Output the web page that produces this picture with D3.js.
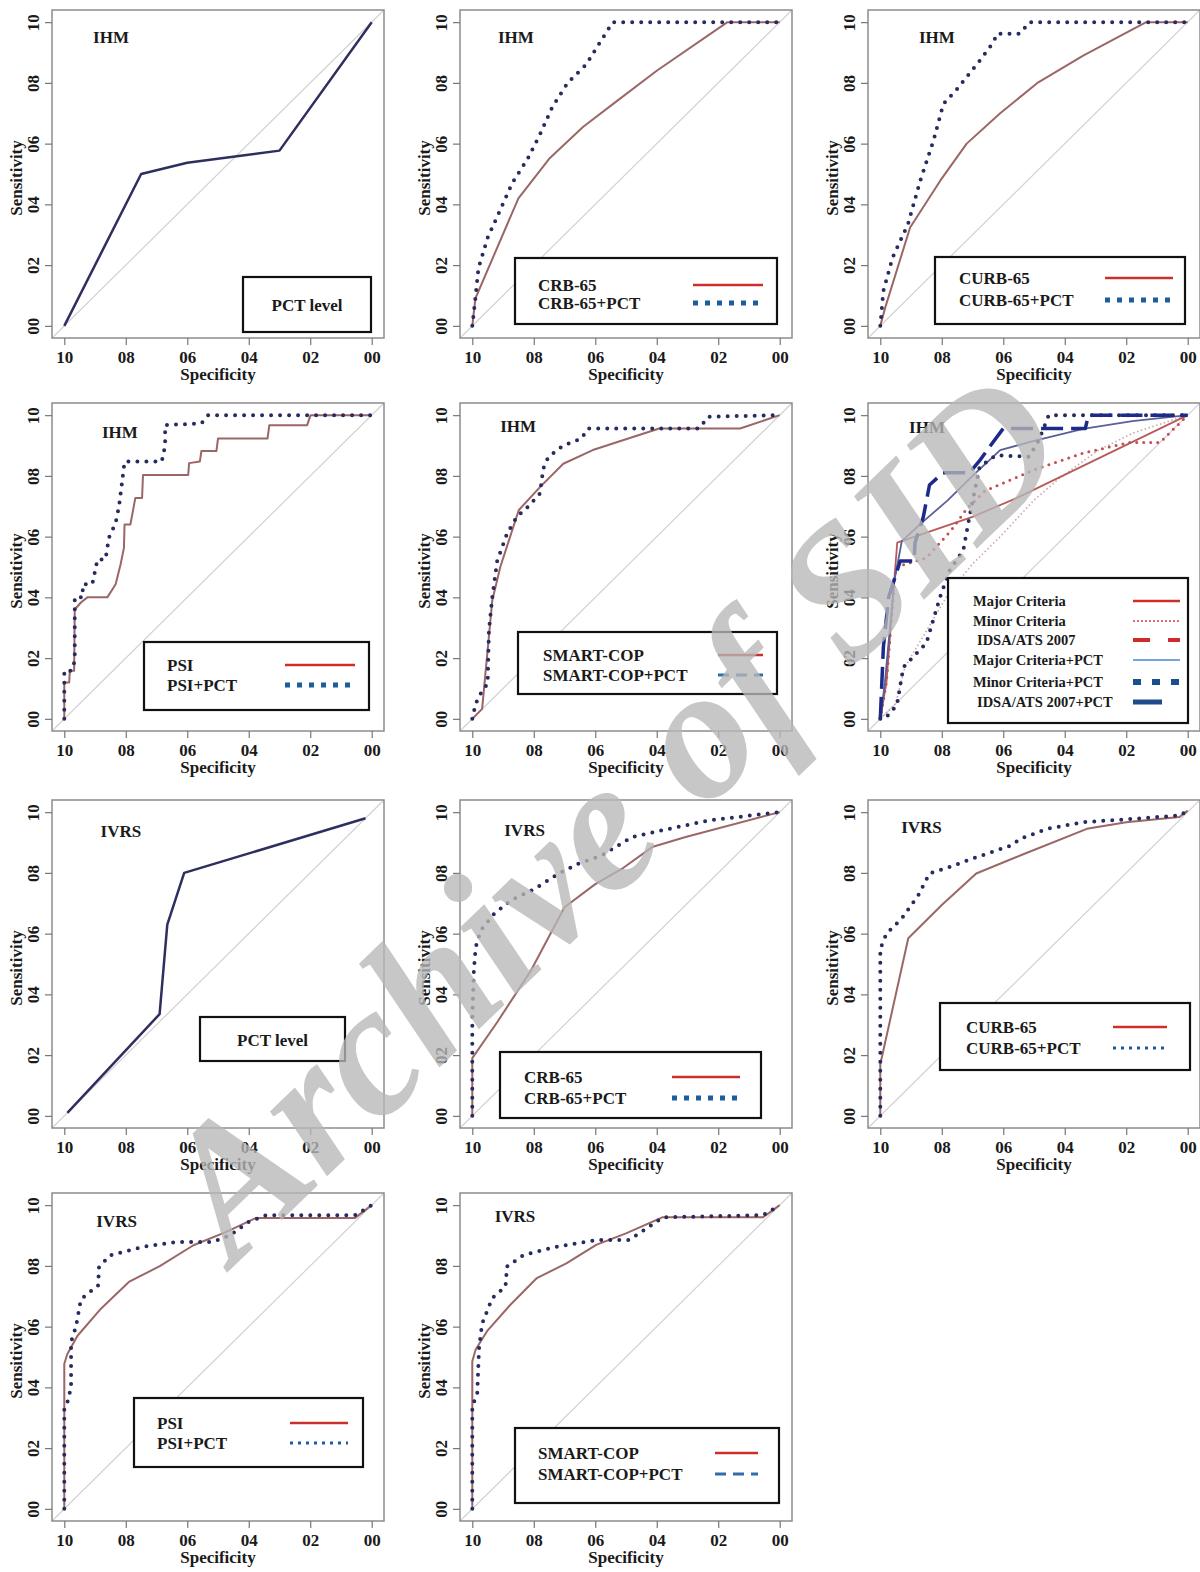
<!DOCTYPE html>
<html>
<head>
<meta charset="utf-8">
<script src="https://cdn.jsdelivr.net/npm/d3@7"></script>
<style>
  body { margin: 0; background: #fff; }
  text { font-family: "Liberation Serif", "Times New Roman", serif; font-weight: bold; fill: #1a1a1a; }
</style>
</head>
<body>
<div id="chart"></div>
<script>
// axis ticks (the decimal points are lost in the source picture)
const tickValues = [1, 0.8, 0.6, 0.4, 0.2, 0];
const tickLabels = ["10", "08", "06", "04", "02", "00"];

// curves, [specificity, sensitivity]
const ihmPctLevel = [[1, 0], [0.75, 0.50], [0.60, 0.537], [0.30, 0.577], [0, 1]];

const ihmCrb65 = [[1, 0], [0.99, 0.09], [0.85, 0.42], [0.75, 0.55], [0.64, 0.655], [0.53, 0.74], [0.40, 0.84], [0.17, 1], [0, 1]];
const ihmCrb65Pct = [[1, 0], [0.99, 0.09], [0.98, 0.19], [0.95, 0.29], [0.91, 0.38], [0.87, 0.47], [0.82, 0.55],
  [0.78, 0.63], [0.74, 0.72], [0.69, 0.80], [0.63, 0.86], [0.59, 0.925], [0.543, 1], [0, 1]];

const ihmCurb65 = [[1, 0], [0.984, 0.06], [0.903, 0.324], [0.805, 0.478], [0.719, 0.60], [0.61, 0.70], [0.486, 0.802],
  [0.34, 0.89], [0.135, 1], [0, 1]];
const ihmCurb65Pct = [[1, 0], [0.99, 0.115], [0.96, 0.225], [0.91, 0.335], [0.87, 0.478], [0.827, 0.61], [0.795, 0.73],
  [0.75, 0.78], [0.676, 0.874], [0.632, 0.934], [0.62, 0.962], [0.546, 0.962], [0.514, 1], [0, 1]];

const ihmPsi = [[1, 0], [1, 0.12], [0.984, 0.12], [0.982, 0.158], [0.968, 0.158], [0.966, 0.36], [0.946, 0.383],
  [0.925, 0.40], [0.86, 0.40], [0.833, 0.443], [0.817, 0.508], [0.806, 0.563], [0.804, 0.64], [0.785, 0.64],
  [0.78, 0.667], [0.769, 0.727], [0.747, 0.727], [0.744, 0.803], [0.597, 0.803], [0.594, 0.842], [0.559, 0.847],
  [0.554, 0.882], [0.505, 0.882], [0.50, 0.923], [0.339, 0.923], [0.333, 0.967], [0.21, 0.967], [0.199, 1], [0, 1]];
const ihmPsiPct = [[1, 0], [1, 0.158], [0.978, 0.158], [0.966, 0.19], [0.966, 0.40], [0.94, 0.40], [0.94, 0.443],
  [0.909, 0.443], [0.892, 0.525], [0.866, 0.525], [0.855, 0.596], [0.833, 0.645], [0.822, 0.70], [0.812, 0.78],
  [0.804, 0.847], [0.683, 0.847], [0.672, 0.90], [0.672, 0.967], [0.554, 0.973], [0.532, 1], [0, 1]];

const ihmSmartCop = [[1, 0], [0.968, 0.033], [0.935, 0.39], [0.909, 0.50], [0.849, 0.687], [0.78, 0.763], [0.704, 0.84],
  [0.608, 0.885], [0.392, 0.956], [0.129, 0.956], [0, 1]];
const ihmSmartCopPct = [[1, 0], [0.989, 0.05], [0.968, 0.093], [0.95, 0.115], [0.946, 0.29], [0.935, 0.40], [0.919, 0.52],
  [0.887, 0.61], [0.855, 0.665], [0.817, 0.70], [0.78, 0.742], [0.769, 0.824], [0.753, 0.862], [0.704, 0.90],
  [0.645, 0.923], [0.624, 0.956], [0.263, 0.956], [0.231, 0.995], [0, 1]];

const ihmMajor = [[1, 0], [0.98, 0.12], [0.945, 0.58], [0.70, 0.665], [0.55, 0.73], [0, 1]];
const ihmMinor = [[1, 0], [0.98, 0.12], [0.95, 0.50], [0.85, 0.53], [0.77, 0.62], [0.72, 0.69], [0.66, 0.75],
  [0.50, 0.82], [0.34, 0.875], [0.19, 0.91], [0.09, 0.91], [0, 1]];
const ihmIdsa = [[1, 0], [0.95, 0.05], [0.92, 0.17], [0.85, 0.29], [0.78, 0.41], [0.70, 0.51], [0.61, 0.60],
  [0.50, 0.72], [0.42, 0.79], [0.29, 0.885], [0.18, 0.94], [0, 1]];
const ihmMajorPct = [[1, 0], [0.985, 0.12], [0.955, 0.45], [0.93, 0.585], [0.86, 0.65], [0.78, 0.72], [0.70, 0.80],
  [0.61, 0.885], [0.50, 0.915], [0.34, 0.955], [0.18, 0.98], [0, 1]];
const ihmMinorPct = [[1, 0], [0.985, 0], [0.946, 0.045], [0.925, 0.17], [0.85, 0.25], [0.806, 0.40], [0.774, 0.49],
  [0.73, 0.555], [0.71, 0.665], [0.677, 0.83], [0.624, 0.868], [0.516, 0.863], [0.484, 0.918], [0.452, 1], [0, 1]];
const ihmIdsaPct = [[1, 0], [0.99, 0.236], [0.973, 0.40], [0.935, 0.52], [0.89, 0.52], [0.887, 0.58], [0.86, 0.665],
  [0.84, 0.77], [0.796, 0.81], [0.71, 0.81], [0.677, 0.85], [0.634, 0.91], [0.60, 0.956], [0.333, 0.956],
  [0.323, 1], [0, 1]];

const ivrsPctLevel = [[0.99, 0.01], [0.69, 0.335], [0.665, 0.63], [0.61, 0.80], [0.02, 0.98]];

const ivrsCrb65 = [[1, 0], [1, 0.19], [0.918, 0.31], [0.81, 0.477], [0.70, 0.687], [0.60, 0.763], [0.514, 0.813],
  [0.415, 0.885], [0.306, 0.918], [0, 1]];
const ivrsCrb65Pct = [[1, 0], [1, 0.32], [0.995, 0.478], [0.989, 0.555], [0.973, 0.61], [0.929, 0.665], [0.874, 0.71],
  [0.798, 0.747], [0.72, 0.797], [0.656, 0.83], [0.58, 0.857], [0.48, 0.918], [0.36, 0.945], [0.23, 0.973], [0, 1]];

const ivrsCurb65 = [[1, 0], [1, 0.17], [0.909, 0.585], [0.80, 0.694], [0.688, 0.798], [0.543, 0.858], [0.328, 0.945],
  [0.20, 0.967], [0.027, 0.984], [0, 1.005]];
const ivrsCurb65Pct = [[1, 0], [1, 0.55], [0.98, 0.60], [0.93, 0.65], [0.876, 0.727], [0.84, 0.798], [0.79, 0.814],
  [0.683, 0.853], [0.575, 0.89], [0.543, 0.913], [0.457, 0.945], [0.339, 0.967], [0.177, 0.978], [0.027, 0.989], [0, 1.005]];

const ivrsPsi = [[1, 0], [1, 0.478], [0.99, 0.51], [0.957, 0.57], [0.88, 0.66], [0.79, 0.747], [0.688, 0.80],
  [0.58, 0.868], [0.473, 0.912], [0.376, 0.958], [0.054, 0.958], [0, 1]];
const ivrsPsiPct = [[1, 0], [1, 0.33], [0.99, 0.35], [0.978, 0.40], [0.978, 0.55], [0.962, 0.60], [0.946, 0.69],
  [0.89, 0.736], [0.887, 0.797], [0.85, 0.835], [0.742, 0.863], [0.634, 0.879], [0.516, 0.879], [0.462, 0.90],
  [0.40, 0.945], [0.344, 0.967], [0.054, 0.967], [0, 1]];

const ivrsSmartCop = [[1, 0], [1, 0.486], [0.989, 0.525], [0.952, 0.585], [0.876, 0.672], [0.79, 0.76], [0.694, 0.808],
  [0.597, 0.869], [0.50, 0.907], [0.382, 0.96], [0.054, 0.96], [0, 1]];
const ivrsSmartCopPct = [[1, 0], [1, 0.339], [0.984, 0.377], [0.978, 0.53], [0.968, 0.61], [0.935, 0.694], [0.892, 0.732],
  [0.887, 0.798], [0.833, 0.836], [0.726, 0.863], [0.597, 0.885], [0.49, 0.885], [0.457, 0.907], [0.38, 0.96],
  [0.054, 0.967], [0, 1]];

// legend texts
const crbLabels = ["CRB-65", "CRB-65+PCT"];
const curbLabels = ["CURB-65", "CURB-65+PCT"];
const psiLabels = ["PSI", "PSI+PCT"];
const smartLabels = ["SMART-COP", "SMART-COP+PCT"];
const criteriaLabels = ["Major Criteria", "Minor Criteria", " IDSA/ATS 2007", "Major Criteria+PCT", "Minor Criteria+PCT", " IDSA/ATS 2007+PCT"];

// ---------- layout ----------
const colLeft = [52, 460, 868];
const rowTop = [10, 403, 800, 1193];
const boxW = 332, boxH = 328;
const serif = '"Liberation Serif", "Times New Roman", serif';

const lineStyles = {
  navy: { stroke: "#2e2f5e", width: 2.5 },
  solid: { stroke: "#9b6666", width: 2 },
  dots: { stroke: "#262b60", width: 4, dash: "0 9", cap: "round" },
  major: { stroke: "#b85a5a", width: 1.8 },
  minor: { stroke: "#c0504d", width: 3, dash: "0 7", cap: "round" },
  idsa: { stroke: "#c9a6a6", width: 1.6, dash: "1.5 2.5" },
  majorPct: { stroke: "#5a5f9a", width: 1.8 },
  minorPct: { stroke: "#262b60", width: 4, dash: "0 9", cap: "round" },
  idsaPct: { stroke: "#1e2a8a", width: 3.5, dash: "22 8" },
  legRed: { stroke: "#c9302c", width: 2.5 },
  legSq: { stroke: "#1c5d9c", width: 5, dash: "5 7" },
  legDash: { stroke: "#2f6ea8", width: 3, dash: "11 7" },
  legDots: { stroke: "#1c5d9c", width: 3, dash: "3 5" },
  legRedDot: { stroke: "#d04040", width: 1.5, dash: "2 2" },
  legRedDash: { stroke: "#d02a2a", width: 4, dash: "17 18" },
  legBlueThin: { stroke: "#4a86c8", width: 1.3 },
  legBlueSq: { stroke: "#1a4f8a", width: 6, dash: "8 11" },
  legBlueThick: { stroke: "#1f4a8c", width: 5 }
};

const panels = [
  { col: 0, row: 0, title: "IHM", titleAt: [0.848, 0.951],
    series: [[ihmPctLevel, "navy"]],
    legend: { x: 191, y: 267, w: 128, h: 55, center: "PCT level" } },
  { col: 1, row: 0, title: "IHM", titleAt: [0.858, 0.951],
    series: [[ihmCrb65, "solid"], [ihmCrb65Pct, "dots"]],
    legend: { x: 55, y: 248, w: 262, h: 66, tx: 23, rows: [27, 45], lx: [178, 248], labels: crbLabels, samples: ["legRed", "legSq"] } },
  { col: 2, row: 0, title: "IHM", titleAt: [0.816, 0.948],
    series: [[ihmCurb65, "solid"], [ihmCurb65Pct, "dots"]],
    legend: { x: 67, y: 247, w: 250, h: 67, tx: 24, rows: [21, 43], lx: [170, 238], labels: curbLabels, samples: ["legRed", "legSq"] } },
  { col: 0, row: 1, title: "IHM", titleAt: [0.819, 0.944],
    series: [[ihmPsi, "solid"], [ihmPsiPct, "dots"]],
    legend: { x: 92, y: 239, w: 225, h: 68, tx: 23, rows: [23, 43], lx: [141, 211], labels: psiLabels, samples: ["legRed", "legSq"] } },
  { col: 1, row: 1, title: "IHM", titleAt: [0.851, 0.961],
    series: [[ihmSmartCop, "solid"], [ihmSmartCopPct, "dots"]],
    legend: { x: 58, y: 229, w: 259, h: 62, tx: 25, rows: [23, 43], lx: [200, 245], labels: smartLabels, samples: ["legRed", "legDash"] } },
  { col: 2, row: 1, title: "IHM", titleAt: [0.848, 0.958],
    series: [[ihmIdsa, "idsa"], [ihmMajor, "major"], [ihmMinor, "minor"], [ihmMajorPct, "majorPct"], [ihmMinorPct, "minorPct"], [ihmIdsaPct, "idsaPct"]],
    legend: { x: 80, y: 175, w: 240, h: 145, tx: 25, rows: [23, 43, 62, 82, 104, 124], lx: [185, 232], size: 14.5,
      labels: criteriaLabels, samples: ["legRed", "legRedDot", "legRedDash", "legBlueThin", "legBlueSq", "legBlueThick"],
      short: { legBlueThick: 29 } } },
  { col: 0, row: 2, title: "IVRS", titleAt: [0.816, 0.935],
    series: [[ivrsPctLevel, "navy"]],
    legend: { x: 148, y: 217, w: 145, h: 44, center: "PCT level" } },
  { col: 1, row: 2, title: "IVRS", titleAt: [0.83, 0.941],
    series: [[ivrsCrb65, "solid"], [ivrsCrb65Pct, "dots"]],
    legend: { x: 40, y: 252, w: 261, h: 66, tx: 24, rows: [25, 46], lx: [172, 240], labels: crbLabels, samples: ["legRed", "legSq"] } },
  { col: 2, row: 2, title: "IVRS", titleAt: [0.866, 0.951],
    series: [[ivrsCurb65, "solid"], [ivrsCurb65Pct, "dots"]],
    legend: { x: 72, y: 203, w: 250, h: 67, tx: 26, rows: [24, 45], lx: [173, 227], labels: curbLabels, samples: ["legRed", "legDots"] } },
  { col: 0, row: 3, title: "IVRS", titleAt: [0.83, 0.945],
    series: [[ivrsPsi, "solid"], [ivrsPsiPct, "dots"]],
    legend: { x: 82, y: 205, w: 229, h: 69, tx: 23, rows: [25, 45], lx: [156, 214], labels: psiLabels, samples: ["legRed", "legDots"] } },
  { col: 1, row: 3, title: "IVRS", titleAt: [0.861, 0.961],
    series: [[ivrsSmartCop, "solid"], [ivrsSmartCopPct, "dots"]],
    legend: { x: 55, y: 235, w: 264, h: 75, tx: 23, rows: [25, 46], lx: [200, 243], labels: smartLabels, samples: ["legRed", "legDash"] } }
];

const svg = d3.select("#chart").append("svg")
  .attr("width", 1200)
  .attr("height", 1572);

svg.append("rect").attr("width", 1200).attr("height", 1572).attr("fill", "#fff");

function applyStyle(sel, key) {
  const s = lineStyles[key];
  sel.attr("fill", "none")
    .attr("stroke", s.stroke)
    .attr("stroke-width", s.width)
    .attr("stroke-dasharray", s.dash || null)
    .attr("stroke-linecap", s.cap || "butt")
    .attr("stroke-linejoin", "round");
}

panels.forEach(p => {
  const g = svg.append("g")
    .attr("transform", "translate(" + colLeft[p.col] + "," + rowTop[p.row] + ")");

  // R style 4% padding on each side
  const x = d3.scaleLinear().domain([1.04, -0.04]).range([0, boxW]);
  const y = d3.scaleLinear().domain([-0.04, 1.04]).range([boxH, 0]);

  // chance line
  g.append("line")
    .attr("x1", x(1.04)).attr("y1", y(-0.04))
    .attr("x2", x(-0.04)).attr("y2", y(1.04))
    .attr("stroke", "#d2d2d2").attr("stroke-width", 1.2);

  const line = d3.line().x(d => x(d[0])).y(d => y(d[1]));
  p.series.forEach(([data, key]) => {
    g.append("path").attr("d", line(data)).call(applyStyle, key);
  });

  // frame
  g.append("rect")
    .attr("width", boxW).attr("height", boxH)
    .attr("fill", "none").attr("stroke", "#8c8c8c").attr("stroke-width", 1.5);

  const xAxis = g.append("g")
    .attr("transform", "translate(0," + boxH + ")")
    .call(d3.axisBottom(x).tickValues(tickValues).tickFormat((d, i) => tickLabels[i]).tickSize(7));
  xAxis.select(".domain").remove();
  xAxis.attr("font-family", serif).attr("font-size", 17).attr("font-weight", "bold");
  xAxis.selectAll("line").attr("stroke", "#777").attr("stroke-width", 1.2);
  xAxis.selectAll("text")
    .attr("y", 19).attr("dy", null)
    .attr("dominant-baseline", "central")
    .attr("fill", "#1a1a1a");

  const yAxis = g.append("g")
    .call(d3.axisLeft(y).tickValues(tickValues).tickFormat((d, i) => tickLabels[i]).tickSize(7));
  yAxis.select(".domain").remove();
  yAxis.attr("font-family", serif).attr("font-size", 17).attr("font-weight", "bold");
  yAxis.selectAll("line").attr("stroke", "#777").attr("stroke-width", 1.2);
  yAxis.selectAll("text")
    .attr("transform", "rotate(-90)")
    .attr("x", 0).attr("y", -19).attr("dy", null)
    .attr("text-anchor", "middle")
    .attr("dominant-baseline", "central")
    .attr("fill", "#1a1a1a");

  g.append("text")
    .attr("x", boxW / 2).attr("y", boxH + 36)
    .attr("text-anchor", "middle").attr("dominant-baseline", "central")
    .attr("font-size", 17)
    .text("Specificity");

  g.append("text")
    .attr("transform", "translate(-36," + (boxH / 2 + 4) + ") rotate(-90)")
    .attr("text-anchor", "middle").attr("dominant-baseline", "central")
    .attr("font-size", 17)
    .text("Sensitivity");

  g.append("text")
    .attr("x", x(p.titleAt[0])).attr("y", y(p.titleAt[1]))
    .attr("text-anchor", "middle").attr("dominant-baseline", "central")
    .attr("font-size", 17)
    .text(p.title);

  // legend
  const L = p.legend;
  const lg = g.append("g").attr("transform", "translate(" + L.x + "," + L.y + ")");
  lg.append("rect")
    .attr("width", L.w).attr("height", L.h)
    .attr("fill", "#fff").attr("stroke", "#111").attr("stroke-width", 2.2);

  if (L.center) {
    lg.append("text")
      .attr("x", L.w / 2).attr("y", L.h / 2 + 1)
      .attr("text-anchor", "middle").attr("dominant-baseline", "central")
      .attr("font-size", 17)
      .text(L.center);
  } else {
    L.labels.forEach((lab, i) => {
      const indent = lab.startsWith(" ") ? 4 : 0;
      lg.append("text")
        .attr("x", L.tx + indent).attr("y", L.rows[i])
        .attr("dominant-baseline", "central")
        .attr("font-size", L.size || 17)
        .text(lab.trim());
      const key = L.samples[i];
      const len = (L.short && L.short[key]) || (L.lx[1] - L.lx[0]);
      lg.append("line")
        .attr("x1", L.lx[0]).attr("x2", L.lx[0] + len)
        .attr("y1", L.rows[i]).attr("y2", L.rows[i])
        .call(applyStyle, key);
    });
  }
});

// watermark of the source archive
svg.append("text")
  .attr("transform", "translate(234,1266) rotate(-44)")
  .attr("font-size", 188)
  .style("font-style", "italic")
  .style("fill", "#b8b8b8")
  .attr("opacity", 0.78)
  .text("Archive of SID");
</script>
</body>
</html>
